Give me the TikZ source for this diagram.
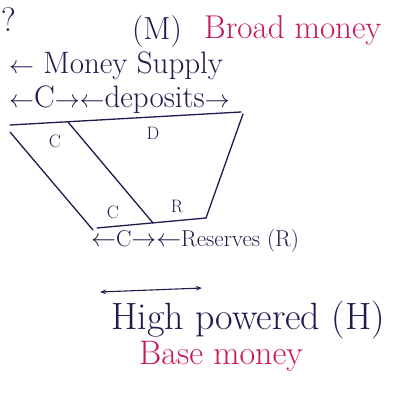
\documentclass[tikz,border=0pt]{standalone}
\usetikzlibrary{arrows.meta}
\definecolor{Ink}{HTML}{1C1C4E}
\definecolor{Pen}{HTML}{C8185E}
\definecolor{Paper}{HTML}{FFFFFF}
\tikzset{
    inktext/.style={text=Ink, inner sep=0pt, font=\fontsize{#1}{#1}\selectfont},
    pentext/.style={text=Pen, inner sep=0pt, font=\fontsize{#1}{#1}\selectfont},
    cellmark/.style={text=Ink, inner sep=1pt, font=\fontsize{18}{20}\selectfont},
    edge/.style={Ink, line width=1.3pt, line cap=round},
    link/.style={Ink, line width=1.1pt, {Stealth[length=6pt]}-{Stealth[length=6pt]}},
}
\begin{document}
\begin{tikzpicture}[x=1pt,y=-1pt]
    \fill[Paper] (0,0) rectangle (392,401);
    \useasboundingbox (0,0) rectangle (392,401);

    % Intestazione
    \node[inktext=34, anchor=west] (qmark) at (1,20) {?};
    \node[inktext=32] (mlabel) at (157,32) {(M)};
    \node[pentext=33, anchor=west] (broad) at (204,30) {Broad money};
    \node[inktext=31, anchor=west] (supply) at (9,66) {$\leftarrow$ Money Supply};
    \node[inktext=31, anchor=west] (deposits) at (9,100) {$\leftarrow$C$\rightarrow\leftarrow$deposits$\rightarrow$};

    % Trapezio (M in alto, H in basso)
    \coordinate (tl) at (10,125);
    \coordinate (tr) at (241,112);
    \coordinate (ol) at (10,132);
    \coordinate (bl) at (93,230);
    \coordinate (it) at (68,122);
    \coordinate (ib) at (153,223);
    \coordinate (rt) at (243,114);
    \coordinate (br) at (206,218);
    \coordinate (bs) at (97,228);
    \draw[edge] (tl) -- (tr);
    \draw[edge] (ol) -- (bl);
    \draw[edge] (it) -- (ib);
    \draw[edge] (rt) -- (br);
    \draw[edge] (bs) -- (br);

    % Celle
    \node[cellmark] (ctop) at (55,141) {C};
    \node[cellmark] (dtop) at (153,133) {D};
    \node[cellmark] (cbot) at (113,212) {C};
    \node[cellmark] (rbot) at (177,206) {R};

    % Base
    \node[inktext=23, anchor=west] (reserves) at (91,241) {$\leftarrow$C$\rightarrow\leftarrow$Reserves (R)};
    \coordinate (hleft) at (100,292);
    \coordinate (hright) at (202,288);
    \draw[link] (hleft) -- (hright);
    \node[inktext=38, anchor=west] (high) at (111,320) {High powered (H)};
    \node[pentext=34, anchor=west] (base) at (139,356) {Base money};
\end{tikzpicture}
\end{document}
